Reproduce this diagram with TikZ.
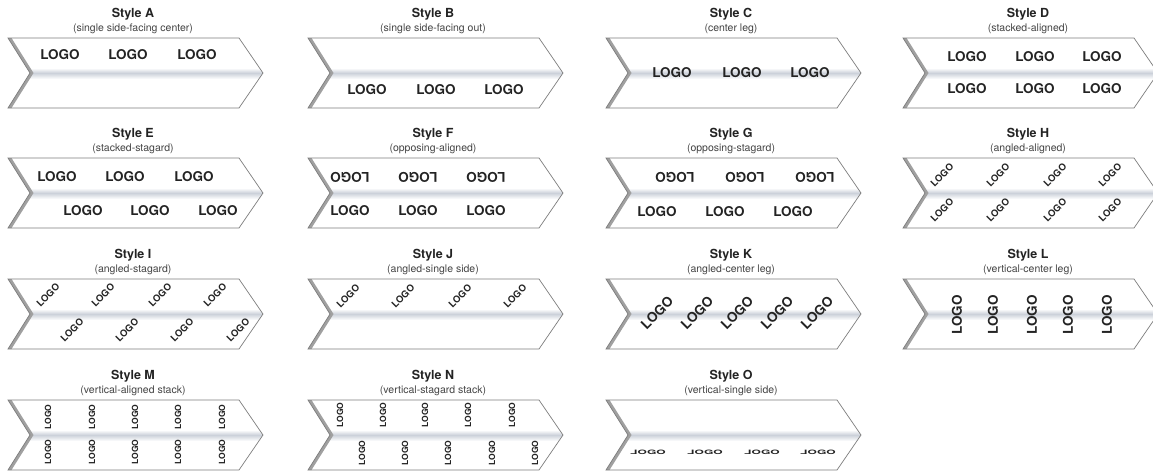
\documentclass[tikz,border=0pt]{standalone}
\usepackage{fontspec}
\setmainfont{TeX Gyre Heros}
\definecolor{edgec}{RGB}{125,125,125}
\definecolor{bandc}{RGB}{204,209,218}
\definecolor{shadowc}{RGB}{160,160,160}
\definecolor{ink}{RGB}{35,35,35}
\tikzset{
  ttl/.style={font=\bfseries\fontsize{12.5}{14}\selectfont, text=ink, inner sep=0, anchor=base},
  subt/.style={font=\fontsize{10.5}{12}\selectfont, text=ink!85, inner sep=0, anchor=base},
  logo/.style={font=\bfseries\fontsize{13.5}{15}\selectfont, text=ink, inner sep=0},
  slogo/.style={font=\bfseries\fontsize{9.5}{11}\selectfont, text=ink, inner sep=0},
  vlogo/.style={font=\bfseries\fontsize{8.5}{10}\selectfont, text=ink, inner sep=0},
  flogo/.style={font=\bfseries\fontsize{12}{13}\selectfont, text=ink, inner sep=0, yscale=0.5},
}
\newcommand\drawchev[5]{%
  \begin{scope}
    \path[fill=white] (#2,#3) -- ++(231,0) -- ++(24,35) -- ++(-24,35) -- ++(-231,0) -- ++(22,-35) -- cycle;
    \clip (#2,#3) -- ++(231,0) -- ++(24,35) -- ++(-24,35) -- ++(-231,0) -- ++(22,-35) -- cycle;
    \shade[top color=white, bottom color=bandc] (#2-5,#3+30) rectangle (#2+260,#3+35);
    \shade[top color=bandc, bottom color=white] (#2-5,#3+35) rectangle (#2+260,#3+41);
    \fill[shadowc] (#2,#3) -- (#2+22,#3+35) -- (#2,#3+70) -- (#2+3.5,#3+70) -- (#2+25.5,#3+35) -- (#2+3.5,#3) -- cycle;
  \end{scope}
  \draw[edgec, line width=0.7pt] (#2,#3) -- ++(231,0) -- ++(24,35) -- ++(-24,35) -- ++(-231,0) -- ++(22,-35) -- cycle;
  \node[ttl] (#1t) at (#2+125,#3-20.5) {Style #1};
  \node[subt] (#1s) at (#2+125,#3-7) {#5};
}
\begin{document}
\begin{tikzpicture}[x=1pt,y=-1pt]
\useasboundingbox[fill=white] (0,0) rectangle (1153,472);
% Row 1
\drawchev{A}{8}{38}{}{(single side-facing center)}
\foreach \x [count=\i] in {52,120,189} \node[logo] (A\i) at (8+\x,55) {LOGO};
\drawchev{B}{308}{38}{}{(single side-facing out)}
\foreach \x [count=\i] in {59,128,196} \node[logo] (B\i) at (308+\x,90) {LOGO};
\drawchev{C}{606}{38}{}{(center leg)}
\foreach \x [count=\i] in {66,136,204} \node[logo] (C\i) at (606+\x,73) {LOGO};
\drawchev{D}{903}{38}{}{(stacked-aligned)}
\foreach \x [count=\i] in {64,132,199} {\node[logo] (Da\i) at (903+\x,57) {LOGO}; \node[logo] (Db\i) at (903+\x,89) {LOGO};}
% Row 2
\drawchev{E}{8}{158}{}{(stacked-stagard)}
\foreach \x [count=\i] in {49,117,186} \node[logo] (Ea\i) at (8+\x,177) {LOGO};
\foreach \x [count=\i] in {75,142,210} \node[logo] (Eb\i) at (8+\x,211) {LOGO};
\drawchev{F}{308}{158}{}{(opposing-aligned)}
\foreach \x [count=\i] in {42,110,178} {\node[logo,rotate=180] (Fa\i) at (308+\x,177) {LOGO}; \node[logo] (Fb\i) at (308+\x,211) {LOGO};}
\drawchev{G}{606}{158}{}{(opposing-stagard)}
\foreach \x [count=\i] in {69,139,209} \node[logo,rotate=180] (Ga\i) at (606+\x,177) {LOGO};
\foreach \x [count=\i] in {51,119,187} \node[logo] (Gb\i) at (606+\x,212) {LOGO};
\drawchev{H}{903}{158}{}{(angled-aligned)}
\foreach \x [count=\i] in {39,95,152,207} {\node[slogo,rotate=45] (Ha\i) at (903+\x,175) {LOGO}; \node[slogo,rotate=45] (Hb\i) at (903+\x,210) {LOGO};}
% Row 3
\drawchev{I}{8}{279}{}{(angled-stagard)}
\foreach \x [count=\i] in {40,95,152,207} \node[slogo,rotate=45] (Ia\i) at (8+\x,295) {LOGO};
\foreach \x [count=\i] in {64,119,174,230} \node[slogo,rotate=45] (Ib\i) at (8+\x,330) {LOGO};
\drawchev{J}{308}{279}{}{(angled-single side)}
\foreach \x [count=\i] in {40,95,152,207} \node[slogo,rotate=45] (J\i) at (308+\x,296) {LOGO};
\drawchev{K}{606}{279}{}{(angled-center leg)}
\foreach \x [count=\i] in {51,91,131,171,211} \node[logo,rotate=45] (K\i) at (606+\x,313) {LOGO};
\drawchev{L}{903}{279}{}{(vertical-center leg)}
\foreach \x [count=\i] in {54,90,129,165,204} \node[logo,rotate=90] (L\i) at (903+\x,315) {LOGO};
% Row 4
\drawchev{M}{8}{400}{}{(vertical-aligned stack)}
\foreach \x [count=\i] in {40,84,127,170,214} {\node[vlogo,rotate=90] (Ma\i) at (8+\x,417) {LOGO}; \node[vlogo,rotate=90] (Mb\i) at (8+\x,452) {LOGO};}
\drawchev{N}{308}{400}{}{(vertical-stagard stack)}
\foreach \x [count=\i] in {32,75,117,160,204} \node[vlogo,rotate=90] (Na\i) at (308+\x,415) {LOGO};
\foreach \x [count=\i] in {54,97,140,184,227} \node[vlogo,rotate=90] (Nb\i) at (308+\x,453) {LOGO};
\drawchev{O}{606}{400}{}{(vertical-single side)}
\foreach \x [count=\i] in {42,99,156,212} \node[flogo] (O\i) at (606+\x,452) {\reflectbox{L}OGO};
\end{tikzpicture}
\end{document}
